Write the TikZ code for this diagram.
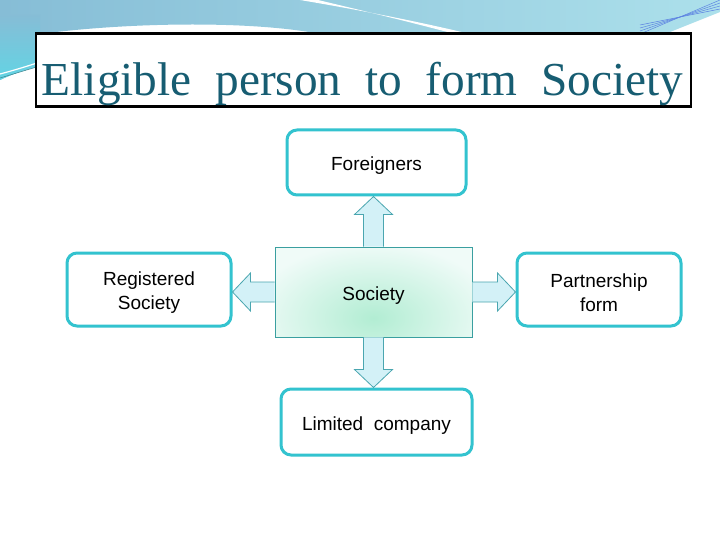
\documentclass[tikz,border=0pt]{standalone}
\usepackage{fontspec}
\setmainfont{Liberation Serif}
\newfontfamily\bodyfont{Liberation Sans}
\usetikzlibrary{calc}
\definecolor{titlecol}{HTML}{175D72}
\definecolor{boxborder}{HTML}{33C3CF}
\definecolor{socborder}{HTML}{3A9FA0}
\definecolor{arrowline}{HTML}{4AA6B0}
\definecolor{arrowfill}{HTML}{D3F1F7}
\definecolor{bandleft}{HTML}{62D4E4}
\definecolor{bandmid}{HTML}{86BDD6}
\definecolor{bandright}{HTML}{ACE0EB}
\definecolor{socin}{HTML}{B2EDD3}
\definecolor{socout}{HTML}{F0FBF8}
\newcommand\dnstrut{\rule{0pt}{20pt}}
\tikzset{
  outbox/.style={draw=boxborder, line width=3pt, rounded corners=10pt, fill=white,
    align=center, font=\bodyfont\fontsize{19}{24}\selectfont, inner sep=0pt},
  socbox/.style={draw=socborder, line width=0.9pt,
    align=center, font=\bodyfont\fontsize{19}{24}\selectfont, inner sep=0pt,
    minimum width=197pt, minimum height=90pt},
  blockarrow/.style={draw=arrowline, line width=0.8pt, fill=arrowfill, line join=miter},
  titlebox/.style={draw=black, line width=2.2pt, fill=white, minimum width=655pt,
    minimum height=73pt, inner sep=0pt},
}
\begin{document}
\begin{tikzpicture}[x=1pt,y=-1pt]
\useasboundingbox (0,0) rectangle (720,540);
\fill[white] (0,0) rectangle (720,540);
% top decoration band
\shade[left color=bandmid, right color=bandright]
  (0,0) -- (720,0) -- (720,12) .. controls (700,20) and (680,28) .. (660,36)
  -- (330,36) .. controls (260,20) and (130,22) .. (40,34) -- (40,66)
  .. controls (25,70) and (12,74) .. (0,80) -- cycle;
\shade[top color=bandmid, bottom color=bandleft]
  (0,15) -- (40,15) -- (40,66) .. controls (25,70) and (12,74) .. (0,80) -- cycle;
\fill[white] (300,0) .. controls (360,10) and (420,22) .. (470,34)
  -- (455,34) .. controls (410,22) and (360,10) .. (318,0) -- cycle;
\draw[white, line width=1.2pt] (0,74) .. controls (15,70) and (28,66) .. (40,62);
\draw[arrowline!80!black, line width=0.5pt] (0,78) -- (40,66);
\foreach \d in {0,3,6,9}
  \draw[bandmid!70!blue, line width=0.5pt] (640,34-\d) -- (720,\d);
% title
\node[titlebox] (title) at (363.5,70) {};
\node[text=titlecol, inner sep=0pt, anchor=base] (titletext) at (362.5,96)
  {\resizebox{641pt}{!}{Eligible\ \ person\ \ to\ \ form\ \ Society}};
% society box glow
\fill[socout] (275,247) rectangle (472,337);
\begin{scope}
  \clip (275,247) rectangle (472,337);
  \shade[inner color=socin, outer color=socout] (373.5,318) ellipse [x radius=125pt, y radius=75pt];
\end{scope}
% nodes
\node[outbox, minimum width=179pt, minimum height=65pt] (for) at (376.5,162.5) {\dnstrut Foreigners};
\node[outbox, minimum width=164pt, minimum height=73pt] (reg) at (149,289.5) {\dnstrut Registered\\Society};
\node[outbox, minimum width=164pt, minimum height=73pt] (part) at (599,289.5) {\dnstrut Partnership\\form};
\node[outbox, minimum width=191pt, minimum height=66pt] (lim) at (376.5,422) {\dnstrut Limited\ \ company};
\node[socbox] (soc) at (373.5,292) {\dnstrut Society};
% block arrows
\draw[blockarrow] let \p1=(soc.north), \p2=(for.south) in
  (\x1-10pt,\y1) -- (\x1-10pt,\y2-18pt) -- (\x1-19pt,\y2-18pt) -- (\x1,\y2)
  -- (\x1+19pt,\y2-18pt) -- (\x1+10pt,\y2-18pt) -- (\x1+10pt,\y1);
\draw[blockarrow] let \p1=(soc.south), \p2=(lim.north) in
  (\x1-10pt,\y1) -- (\x1-10pt,\y2+18pt) -- (\x1-19pt,\y2+18pt) -- (\x1,\y2)
  -- (\x1+19pt,\y2+18pt) -- (\x1+10pt,\y2+18pt) -- (\x1+10pt,\y1);
\draw[blockarrow] let \p1=(soc.west), \p2=(reg.east) in
  (\x1,\y1+10pt) -- (\x2+18pt,\y1+10pt) -- (\x2+18pt,\y1+19pt) -- (\x2,\y1)
  -- (\x2+18pt,\y1-19pt) -- (\x2+18pt,\y1-10pt) -- (\x1,\y1-10pt);
\draw[blockarrow] let \p1=(soc.east), \p2=(part.west) in
  (\x1,\y1+10pt) -- (\x2-18pt,\y1+10pt) -- (\x2-18pt,\y1+19pt) -- (\x2,\y1)
  -- (\x2-18pt,\y1-19pt) -- (\x2-18pt,\y1-10pt) -- (\x1,\y1-10pt);
\end{tikzpicture}
\end{document}
